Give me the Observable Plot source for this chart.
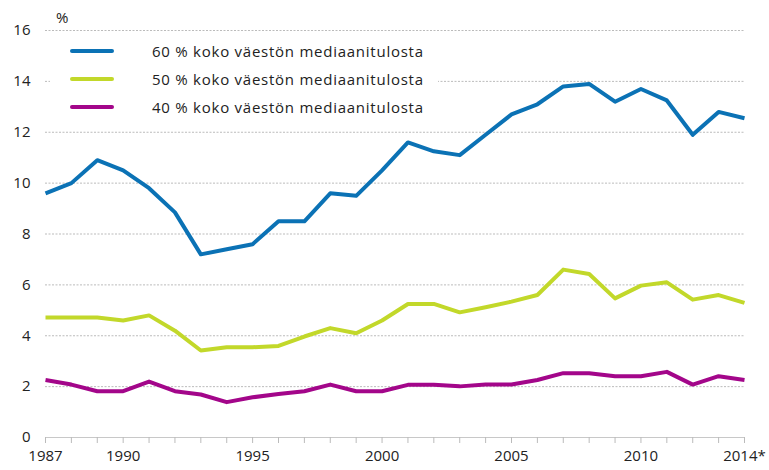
<!DOCTYPE html>
<html><head><meta charset="utf-8">
<script src="https://cdn.jsdelivr.net/npm/d3@7"></script>
<script src="https://cdn.jsdelivr.net/npm/@observablehq/plot@0.6"></script>
<style>
body{margin:0;background:#fff;font-family:"Open Sans",sans-serif;}
#wrap{position:relative;width:769px;height:470px;}
#unit{position:absolute;left:56px;top:7px;font-size:15px;color:#222;}
#legend{position:absolute;left:50px;top:38px;width:388px;height:82px;background:#fff;}
.li{position:absolute;left:20px;height:20px;display:flex;align-items:center;font-size:15px;letter-spacing:0.75px;color:#222;}
.sw{width:44px;height:4px;border-radius:2px;margin-right:38px;}
</style></head>
<body><div id="wrap"><div id="chart"></div><div id="unit">%</div><div id="legend"></div></div>
<script>
const years = d3.range(1987, 2015);
const seriesNames = ["60 % koko väestön mediaanitulosta","50 % koko väestön mediaanitulosta","40 % koko väestön mediaanitulosta"];
const seriesColors = ["#0b72b5","#c2d82a","#a3068a"];
const s60 = [9.6,10.0,10.9,10.5,9.8,8.85,7.2,7.4,7.6,8.5,8.5,9.6,9.5,10.5,11.6,11.25,11.1,11.9,12.7,13.1,13.8,13.9,13.2,13.7,13.25,11.9,12.8,12.55];
const s50 = [4.72,4.72,4.72,4.6,4.8,4.2,3.42,3.55,3.55,3.6,3.97,4.3,4.1,4.6,5.25,5.25,4.92,5.12,5.34,5.6,6.6,6.43,5.47,5.97,6.1,5.42,5.6,5.29];
const s40 = [2.26,2.08,1.82,1.82,2.2,1.82,1.69,1.39,1.58,1.71,1.82,2.08,1.82,1.82,2.07,2.07,2.01,2.08,2.08,2.26,2.53,2.53,2.41,2.41,2.58,2.08,2.41,2.26];
const labelYears = [1987,1990,1995,2000,2005,2010,2014];
const yTicks = [0,2,4,6,8,10,12,14,16];

const allSeries = [s60, s50, s40];
const data = [];
allSeries.forEach((arr, i) => arr.forEach((v, j) => data.push({year: years[j], value: v, series: seriesNames[i]})));

const chart = Plot.plot({
  width: 769, height: 470,
  marginLeft: 45, marginRight: 25, marginTop: 30, marginBottom: 33,
  style: {fontFamily: '"Open Sans", sans-serif', fontSize: "15px", color: "#222", background: "#fff"},
  x: {domain: [1987, 2014]},
  y: {domain: [0, 16]},
  color: {domain: seriesNames, range: seriesColors},
  marks: [
    Plot.gridY({ticks: yTicks.filter(d => d > 0), stroke: "#aaa", strokeOpacity: 0.8, strokeDasharray: "2,1.5"}),
    Plot.ruleY([0], {stroke: "#c8c8c8", strokeWidth: 1}),
    Plot.axisY({ticks: yTicks, tickSize: 0, tickPadding: 15, label: null, fontSize: 15}),
    Plot.axisX({ticks: years, tickSize: 6, stroke: "#bbb", tickFormat: () => "", label: null}),
    Plot.axisX({ticks: labelYears, tickSize: 0, tickPadding: 13, label: null, fontSize: 15, tickFormat: d => d === 2014 ? "2014*" : String(d)}),
    Plot.line(data, {x: "year", y: "value", z: "series", stroke: "series", strokeWidth: 4, strokeLinejoin: "round", strokeLinecap: "butt"})
  ]
});
document.getElementById("chart").appendChild(chart);

const leg = document.getElementById("legend");
seriesNames.forEach((n, i) => {
  const d = document.createElement("div");
  d.className = "li";
  d.style.top = (3 + i * 28) + "px";
  d.innerHTML = `<span class="sw" style="background:${seriesColors[i]}"></span><span>${n}</span>`;
  leg.appendChild(d);
});
</script></body></html>
